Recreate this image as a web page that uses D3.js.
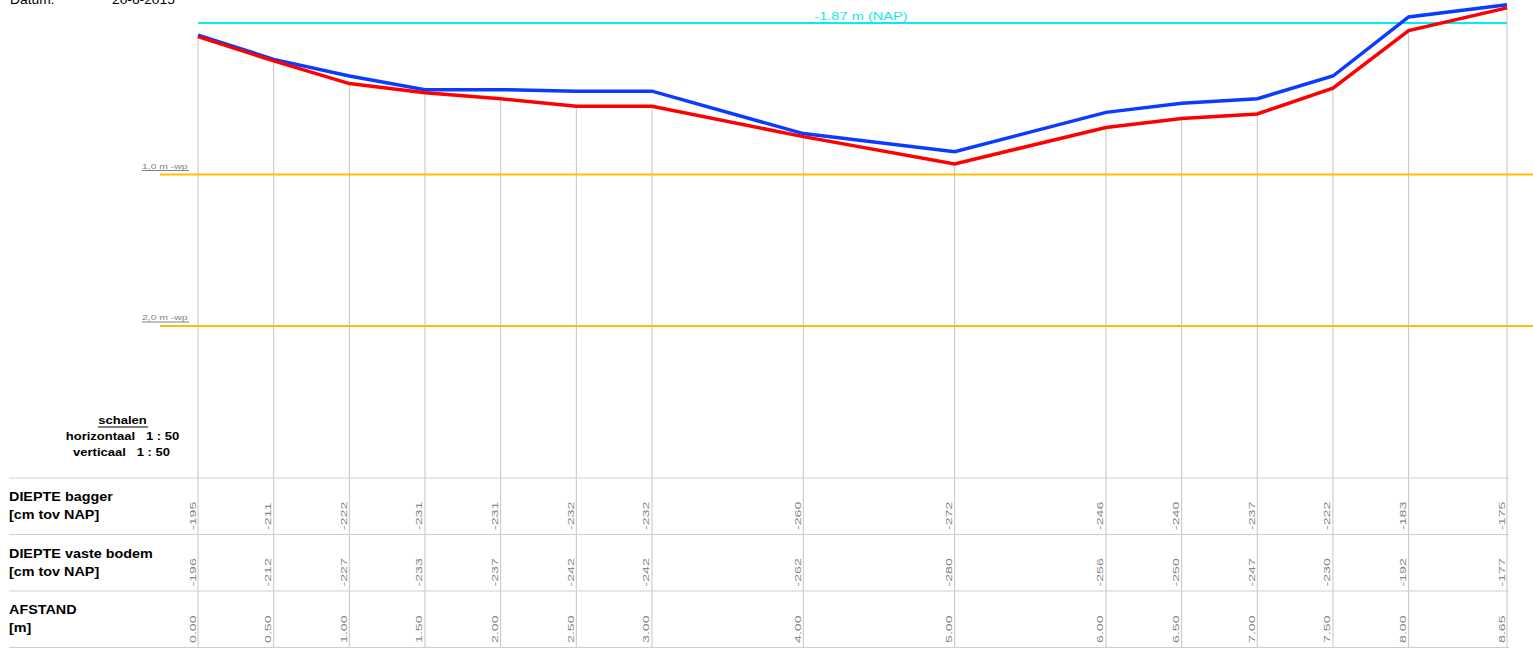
<!DOCTYPE html>
<html>
<head>
<meta charset="utf-8">
<script src="https://cdn.jsdelivr.net/npm/d3@7"></script>
<style>
  html, body { margin: 0; padding: 0; background: #fff; overflow: hidden; }
  svg { display: block; font-family: "Liberation Sans", Arial, sans-serif; }
</style>
</head>
<body>
<div id="chart"></div>
<script>
// profile data
const afstand = [0.00, 0.50, 1.00, 1.50, 2.00, 2.50, 3.00, 4.00, 5.00, 6.00, 6.50, 7.00, 7.50, 8.00, 8.65];
const diepteBagger = [-195, -211, -222, -231, -231, -232, -232, -260, -272, -246, -240, -237, -222, -183, -175];
const diepteVast = [-196, -212, -227, -233, -237, -242, -242, -262, -280, -256, -250, -247, -230, -192, -177];
const waterpeil = -187;              // cm NAP
const wpLines = [100, 200];          // cm below waterpeil
const wpLabels = ['1,0 m -wp', '2,0 m -wp'];
const rowLabels = [
  ['DIEPTE bagger', '[cm tov NAP]'],
  ['DIEPTE vaste bodem', '[cm tov NAP]'],
  ['AFSTAND', '[m]']
];
const datum = '20-6-2015';

const W = 1533, H = 652;
const svg = d3.select('#chart').append('svg').attr('width', W).attr('height', H);

// 1:50 both ways -> same px per metre
const x = d3.scaleLinear().domain([0, 8.65]).range([198, 1507]);
const y = d3.scaleLinear().domain([-187, -387]).range([23, 326]);

const tableTop = 478, rowH = 56.5;
const tableBottom = tableTop + rowH * 3;

// the source drawing has its text stretched horizontally
function label(parent, tx, ty, str, fs, sx, opts = {}) {
  const t = parent.append('text')
    .attr('transform', `translate(${tx},${ty}) scale(${sx},1)`)
    .attr('font-size', fs)
    .attr('fill', opts.fill || '#000')
    .attr('font-weight', opts.bold ? 'bold' : null)
    .attr('text-anchor', opts.anchor || 'start')
    .text(str);
  if (opts.preserve) t.attr('xml:space', 'preserve');
  return t;
}

// header (cut off at top, as in the source)
label(svg, 10, 4, 'Datum:', 12, 1.15);
label(svg, 112, 4, datum, 12, 1.15);

// vertical grid lines from bottom profile down through the table
svg.append('g').selectAll('line').data(afstand).join('line')
  .attr('x1', d => x(d)).attr('x2', d => x(d))
  .attr('y1', (d, i) => y(diepteVast[i])).attr('y2', tableBottom)
  .attr('stroke', '#c4c4c4').attr('stroke-width', 1);

// table horizontal lines
svg.append('g').selectAll('line').data(d3.range(4)).join('line')
  .attr('x1', 9).attr('x2', 1509)
  .attr('y1', i => tableTop + i * rowH).attr('y2', i => tableTop + i * rowH)
  .attr('stroke', '#cfcfcf').attr('stroke-width', 1.2);

// waterpeil line
svg.append('line')
  .attr('x1', x(0)).attr('x2', x(8.65))
  .attr('y1', y(waterpeil)).attr('y2', y(waterpeil))
  .attr('stroke', '#00f0f0').attr('stroke-width', 2);
label(svg, 861, 20, (waterpeil / 100).toFixed(2) + ' m (NAP)', 11.8, 1.24, { fill: '#1ce6e6', anchor: 'middle' });

// wp lines
wpLines.forEach((off, i) => {
  const yy = y(waterpeil - off);
  svg.append('line').attr('x1', 160).attr('x2', W).attr('y1', yy).attr('y2', yy)
    .attr('stroke', '#ffbf00').attr('stroke-width', 2);
  label(svg, 142, yy - 6, wpLabels[i], 8, 1.3, { fill: '#808080' });
  svg.append('line').attr('x1', 142).attr('x2', 189).attr('y1', yy - 4).attr('y2', yy - 4)
    .attr('stroke', '#808080').attr('stroke-width', 1);
});

// profile lines
const line = arr => d3.line().x((d, i) => x(afstand[i])).y((d, i) => y(arr[i]))(arr);
svg.append('path').attr('d', line(diepteBagger)).attr('fill', 'none')
  .attr('stroke', '#0a3cff').attr('stroke-width', 3.5).attr('stroke-linejoin', 'miter');
svg.append('path').attr('d', line(diepteVast)).attr('fill', 'none')
  .attr('stroke', '#ff0000').attr('stroke-width', 3.5).attr('stroke-linejoin', 'miter');

// schalen
label(svg, 122.5, 424, 'schalen', 10.5, 1.24, { bold: true, anchor: 'middle' });
svg.append('line').attr('x1', 98).attr('x2', 148).attr('y1', 427).attr('y2', 427).attr('stroke', '#000').attr('stroke-width', 1);
label(svg, 122.5, 440, 'horizontaal   1 : 50', 10.5, 1.24, { bold: true, anchor: 'middle', preserve: true });
label(svg, 121.5, 456, 'verticaal   1 : 50', 10.5, 1.24, { bold: true, anchor: 'middle', preserve: true });

// row labels
rowLabels.forEach((lab, r) => {
  const top = tableTop + r * rowH;
  label(svg, 9, top + 23, lab[0], 12.5, 1.15, { bold: true });
  label(svg, 9, top + 41, lab[1], 12.5, 1.15, { bold: true });
});

// rotated values
const rows = [
  diepteBagger.map(String),
  diepteVast.map(String),
  afstand.map(d => d.toFixed(2))
];
rows.forEach((vals, r) => {
  const base = tableTop + r * rowH + 52;
  svg.append('g').selectAll('text').data(vals).join('text')
    .attr('transform', (d, i) => `translate(${x(afstand[i]) - 2.5},${base}) rotate(-90) scale(1.45,1)`)
    .attr('font-size', 9.8).attr('fill', '#858585')
    .text(d => d);
});
</script>
</body>
</html>
